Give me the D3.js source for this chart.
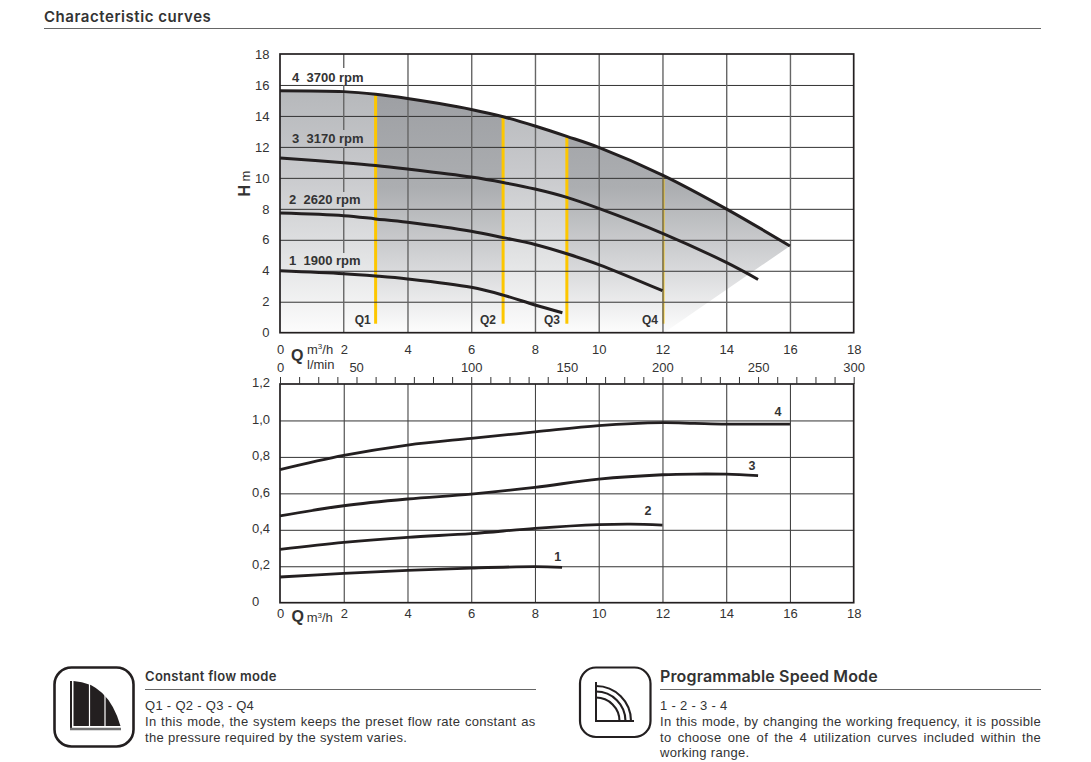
<!DOCTYPE html>
<html><head><meta charset="utf-8">
<script src="https://cdn.jsdelivr.net/npm/d3@7/dist/d3.min.js"></script>
<style>
html,body{margin:0;padding:0;background:#fff}
svg{display:block}
text{font-family:"Liberation Sans",Arial,sans-serif;fill:#333;white-space:pre}
</style></head><body>
<svg id="c" width="1091" height="762"></svg>
<script>
// ---- data ----
const flowTicks=[0,2,4,6,8,10,12,14,16,18];
const headTicks=[0,2,4,6,8,10,12,14,16,18];
const powerTicks=[0,0.2,0.4,0.6,0.8,1.0,1.2];
const lpmLabels=[0,50,100,150,200,250,300];
const lpmMinor=d3.range(0,301,10);

const headQ4=[0,2,3,4,5,6,7,8,9,10,12,14,16];
const headV4=[15.63,15.57,15.4,15.13,14.8,14.42,13.95,13.35,12.68,11.97,10.18,8.0,5.6];
const headQ3=[0,2,3,4,6,7,8,9,10,12,14,15];
const headV3=[11.28,10.98,10.8,10.57,10.05,9.7,9.28,8.74,8.03,6.42,4.54,3.44];
const headQ2=[0,2,3,4,6,7,8,9,10,12];
const headV2=[7.73,7.56,7.35,7.13,6.55,6.14,5.7,5.1,4.4,2.71];
const headQ1=[0,2,3,4,6,7,8,8.86];
const headV1=[4.0,3.81,3.66,3.47,2.93,2.43,1.79,1.29];

const powQ4=[0,2,4,6,8,10,12,13,14,16];
const powV4=[0.73,0.808,0.865,0.902,0.937,0.972,0.988,0.984,0.98,0.98];
const powQ3=[0,2,4,6,8,10,12,13,14,15];
const powV3=[0.476,0.532,0.569,0.596,0.633,0.678,0.702,0.706,0.705,0.697];
const powQ2=[0,2,4,6,8,10,11,12];
const powV2=[0.293,0.331,0.359,0.379,0.408,0.428,0.431,0.426];
const powQ1=[0,2,4,6,8,8.85];
const powV1=[0.141,0.161,0.177,0.19,0.198,0.194];

const modeNames=["Q1","Q2","Q3","Q4"];
const modeFlow=[3,7,9,12.03];
const modeTop=[15.4,13.95,12.68,10.18];
const modeBottom=0.58;
const speedNames=["4  3700 rpm","3  3170 rpm","2  2620 rpm","1  1900 rpm"];
const powerNames=["4","3","2","1"];
const shadeEndFlow=12.05;

// ---- layout ----
const L=280,R=853.7,T1=54,B1=332.7,T2=384,B2=602.7;
const svg=d3.select("#c"), defs=svg.append("defs");
const x=d3.scaleLinear().domain([0,18]).range([L,R]);
const xl=d3.scaleLinear().domain([0,300]).range([L,R]);
const y1=d3.scaleLinear().domain([0,18]).range([B1,T1]);
const y2=d3.scaleLinear().domain([0,1.2]).range([B2,T2]);
const INK="#231f20", TXT="#333";

// ---- shaded operating range ----
function grad(id,stops){
  const g=defs.append("linearGradient").attr("id",id).attr("gradientUnits","userSpaceOnUse")
    .attr("x1",0).attr("x2",0).attr("y1",y1(15.63)).attr("y2",y1(0));
  stops.forEach(s=>g.append("stop").attr("offset",s[0]).attr("stop-color",s[1]));
}
grad("lite",[[0,"#b6b8bb"],[.35,"#c9cacd"],[.7,"#e3e4e5"],[1,"#fcfcfc"]]);
grad("dark",[[0,"#9d9fa3"],[.4,"#acaeb1"],[.7,"#d3d4d6"],[1,"#fdfdfd"]]);
const line=d3.line().curve(d3.curveCatmullRom.alpha(0.5));
const topPts=headQ4.map((q,i)=>[x(q),y1(headV4[i])]);
const shade=line(topPts)+"L"+x(shadeEndFlow)+","+y1(0)+"L"+x(0)+","+y1(0)+"Z";
const bands=[[0,modeFlow[0],"lite"],[modeFlow[0],modeFlow[1],"dark"],[modeFlow[1],modeFlow[2],"lite"],[modeFlow[2],16,"dark"]];
bands.forEach((b,i)=>{
  defs.append("clipPath").attr("id","b"+i).append("rect")
    .attr("x",x(b[0])).attr("y",T1).attr("width",x(b[1])-x(b[0])).attr("height",B1-T1);
  svg.append("path").attr("d",shade).attr("fill","url(#"+b[2]+")").attr("clip-path","url(#b"+i+")");
});

// ---- constant-flow lines ----
modeFlow.forEach((q,i)=>{
  svg.append("line").attr("x1",x(q)).attr("x2",x(q)).attr("y1",y1(modeTop[i])).attr("y2",y1(modeBottom))
    .attr("stroke","#fdc700").attr("stroke-width",i==3?2:3);
});

// ---- grids via axes ----
function styleGrid(g,col,w){g.select(".domain").remove();g.selectAll("line").attr("stroke",col).attr("stroke-width",w);g.selectAll("text").remove();}
svg.append("g").attr("transform",`translate(${L},0)`)
  .call(d3.axisLeft(y1).tickValues(headTicks.slice(1,-1)).tickSize(-(R-L)).tickFormat(""))
  .call(styleGrid,"#333",1);
svg.append("g").attr("transform",`translate(0,${B1})`)
  .call(d3.axisBottom(x).tickValues(flowTicks.slice(2,-1)).tickSize(-(B1-T1)).tickFormat(""))
  .call(styleGrid,"#666",1.4);
// the 2 m3/h line is broken behind the speed labels
const gaps=[[T1,68],[85,130],[147,192],[210,253],[271,B1]];
gaps.forEach(g=>svg.append("line").attr("x1",x(2)).attr("x2",x(2)).attr("y1",g[0]).attr("y2",g[1]).attr("stroke","#666").attr("stroke-width",1.4));

svg.append("g").attr("transform",`translate(${L},0)`)
  .call(d3.axisLeft(y2).tickValues(powerTicks.slice(1,-1)).tickSize(-(R-L)).tickFormat(""))
  .call(styleGrid,"#333",1);
svg.append("g").attr("transform",`translate(0,${B2})`)
  .call(d3.axisBottom(x).tickValues(flowTicks.slice(1,-1)).tickSize(-(B2-T2)).tickFormat(""))
  .call(styleGrid,"#444",1.1);

// ---- curves ----
const curve=(qs,vs,yy,w)=>svg.append("path").attr("d",line(qs.map((q,i)=>[x(q),yy(vs[i])])))
  .attr("fill","none").attr("stroke",INK).attr("stroke-width",w);
[[headQ4,headV4],[headQ3,headV3],[headQ2,headV2],[headQ1,headV1]].forEach(c=>curve(c[0],c[1],y1,3));
[[powQ4,powV4],[powQ3,powV3],[powQ2,powV2],[powQ1,powV1]].forEach(c=>curve(c[0],c[1],y2,2.8));

// ---- frames ----
[[T1,B1],[T2,B2]].forEach(f=>svg.append("rect").attr("x",L).attr("y",f[0]).attr("width",R-L).attr("height",f[1]-f[0])
  .attr("fill","none").attr("stroke",INK).attr("stroke-width",1.7));

// ---- tick labels via axes ----
function plain(g){g.select(".domain").remove();g.selectAll("line").remove();g.selectAll("text").attr("font-size",13).attr("fill",TXT).attr("font-family","Liberation Sans");}
svg.append("g").attr("transform",`translate(269.5,0)`)
  .call(d3.axisLeft(y1).tickValues(headTicks).tickSize(0).tickPadding(0).tickFormat(d=>d))
  .call(plain);
svg.append("g").attr("transform",`translate(0,345)`)
  .call(d3.axisBottom(x).tickValues(flowTicks).tickSize(0).tickPadding(0).tickFormat(d=>d))
  .call(plain);
svg.append("g").attr("transform",`translate(0,363)`)
  .call(d3.axisBottom(xl).tickValues(lpmLabels).tickSize(0).tickPadding(0).tickFormat(d=>d))
  .call(plain)
  .selectAll("text").attr("dx",d=>d==50?-19.5:0);
svg.append("g").attr("transform",`translate(0,609)`)
  .call(d3.axisBottom(x).tickValues(flowTicks).tickSize(0).tickPadding(0).tickFormat(d=>d))
  .call(plain);
const gp=svg.append("g").attr("transform",`translate(252,-1.5)`)
  .call(d3.axisLeft(y2).tickValues(powerTicks).tickSize(0).tickPadding(0).tickFormat(d=>d==0?"0":d.toFixed(1).replace(".",",")))
  .call(plain);
gp.selectAll("text").attr("text-anchor","start");
// minor l/min ticks
svg.append("g").attr("transform",`translate(0,${T2})`)
  .call(d3.axisTop(xl).tickValues(lpmMinor).tickSize(7).tickFormat(""))
  .call(g=>{g.select(".domain").remove();g.selectAll("line").attr("stroke","#333").attr("stroke-width",1);});

// ---- annotations ----
const T=(s,xx,yy,o={})=>{const t=svg.append("text").attr("x",xx).attr("y",yy).attr("font-size",o.size||13)
  .attr("font-weight",o.weight||(o.bold?"bold":"normal")).attr("fill",o.fill||TXT).attr("text-anchor",o.anchor||"start").text(s);
  if(o.family)t.style("font-family",o.family);
  if(o.ls)t.attr("letter-spacing",o.ls);
  if(o.transform)t.attr("transform",o.transform);return t;};
const lblX=[292,292,289,289], lblY=[81.7,142.7,204,265];
speedNames.forEach((s,i)=>T(s,lblX[i],lblY[i],{bold:1,size:13}));
const qlX=[362.7,488,552,650];
modeNames.forEach((s,i)=>T(s,qlX[i],324,{bold:1,size:12,anchor:"middle"}));
const plX=[778,752,648,557.7], plY=[415.7,470,514.7,561];
powerNames.forEach((s,i)=>T(s,plX[i],plY[i],{bold:1,size:12.5,anchor:"middle"}));

T("H",250,196.5,{bold:1,size:16,transform:"rotate(-90 250 196.5)"});
T("m",250,181.5,{size:13,transform:"rotate(-90 250 181.5)"});
T("Q",291,360.5,{bold:1,size:16});
const mh=(xx,yy)=>{const t=T("m",xx,yy,{size:13});t.append("tspan").attr("font-size",8).attr("dy",-4.5).text("3");t.append("tspan").attr("dy",4.5).text("/h");};
mh(307,353.5);
T("l/min",307,368.5,{size:13});
T("Q",291.5,622,{bold:1,size:16});
mh(306.7,622);

// ---- page header ----
T("Characteristic curves",44,21.5,{weight:600,size:15,ls:0.55,fill:"#222",family:"Inter"});
svg.append("line").attr("x1",44).attr("x2",1041).attr("y1",28.5).attr("y2",28.5).attr("stroke","#666").attr("stroke-width",1);

// ---- text blocks ----
const BODY={size:13,fill:"#606062",ls:0.3};
function justified(s,xx,yy,w){
  const t=T(s,xx,yy,BODY);
  const n=s.split(" ").length-1, len=t.node().getComputedTextLength();
  t.attr("word-spacing",(w-len)/n);
}
T("Constant flow mode",145,681,{weight:600,size:13,ls:0.3,fill:"#333",family:"Inter"});
svg.append("line").attr("x1",145).attr("x2",536).attr("y1",689.5).attr("y2",689.5).attr("stroke","#666");
T("Q1 - Q2 - Q3 - Q4",145,709.5,BODY);
justified("In this mode, the system keeps the preset flow rate constant as",145,725.5,390.5);
T("the pressure required by the system varies.",145,741.5,BODY);

T("Programmable Speed Mode",660,681.5,{weight:600,size:16,ls:0.15,fill:"#333",family:"Inter"});
svg.append("line").attr("x1",660).attr("x2",1041).attr("y1",689.5).attr("y2",689.5).attr("stroke","#666");
T("1 - 2 - 3 - 4",660,709.5,BODY);
justified("In this mode, by changing the working frequency, it is possible",660,725.5,381);
justified("to choose one of the 4 utilization curves included within the",660,741.5,381);
T("working range.",660,757,BODY);

// ---- icons ----
svg.append("rect").attr("x",54.5).attr("y",667.5).attr("width",79).attr("height",79).attr("rx",17)
  .attr("fill","none").attr("stroke",INK).attr("stroke-width",2.6);
svg.append("rect").attr("x",580).attr("y",667.5).attr("width",70.5).attr("height",69.5).attr("rx",16)
  .attr("fill","none").attr("stroke",INK).attr("stroke-width",2.2);
const icon=svg.append("g");
icon.append("path").attr("d","M71,681V729").attr("fill","none").attr("stroke",INK).attr("stroke-width",2);
icon.append("path").attr("d","M70,729H121").attr("fill","none").attr("stroke","#6f6f70").attr("stroke-width",2.4);
icon.append("path").attr("d","M73.5,681Q108,683 120.5,726H73.5Z").attr("fill",INK);
[89.5,105].forEach(v=>icon.append("line").attr("x1",v).attr("x2",v).attr("y1",680).attr("y2",727).attr("stroke","#fff").attr("stroke-width",1.2));
const icon2=svg.append("g");
icon2.append("path").attr("d","M596,682V721H634").attr("fill","none").attr("stroke",INK).attr("stroke-width",2);
[35,29.5,23.5].forEach(r=>{
  const p=d3.path(); p.arc(596,721,r,-Math.PI/2,0);
  icon2.append("path").attr("d",p.toString()).attr("fill","none").attr("stroke",INK).attr("stroke-width",2.1);
});
</script></body></html>
